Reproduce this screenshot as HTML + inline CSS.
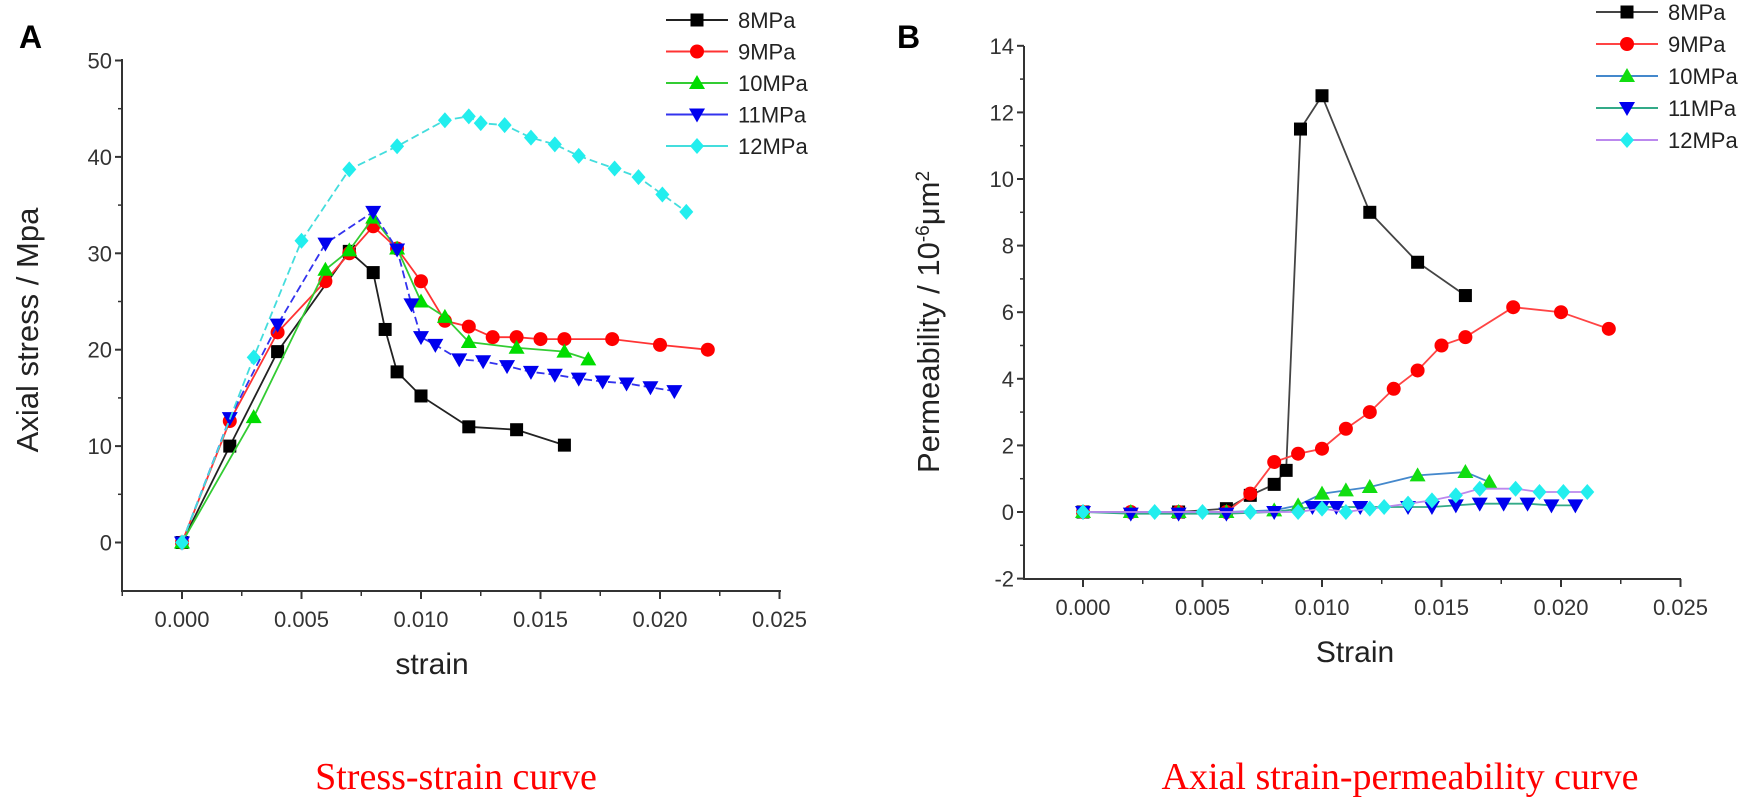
<!DOCTYPE html>
<html><head><meta charset="utf-8"><style>
html,body{margin:0;padding:0;background:#fff;}
svg{display:block;}
</style></head><body>
<svg id="root" width="1756" height="802" viewBox="0 0 1756 802" xmlns="http://www.w3.org/2000/svg" font-family="Liberation Sans, Arial, sans-serif">
<g id="A"></g>
<g id="B"></g>
<text x="456" y="789" font-family="Liberation Serif, serif" font-size="38" fill="#f00" text-anchor="middle">Stress-strain curve</text>
<text x="1400" y="789" font-family="Liberation Serif, serif" font-size="38" fill="#f00" text-anchor="middle">Axial strain-permeability curve</text>
</svg>
<script>
// ---- Chart A data ----
const aStrain8 = [0,0.002,0.004,0.007,0.008,0.0085,0.009,0.010,0.012,0.014,0.016];
const aStress8 = [0,10,19.8,30.2,28,22.1,17.7,15.2,12,11.7,10.1];
const aStrain9 = [0,0.002,0.004,0.006,0.007,0.008,0.009,0.010,0.011,0.012,0.013,0.014,0.015,0.016,0.018,0.020,0.022];
const aStress9 = [0,12.6,21.8,27.1,30,32.8,30.5,27.1,23,22.4,21.3,21.3,21.1,21.1,21.1,20.5,20.0];
const aStrain10 = [0,0.003,0.006,0.007,0.008,0.009,0.010,0.011,0.012,0.014,0.016,0.017];
const aStress10 = [0,13,28.3,30.3,33.7,30.5,25,23.4,20.8,20.2,19.8,19.0];
const aStrain11 = [0,0.002,0.004,0.006,0.008,0.009,0.0096,0.010,0.0106,0.0116,0.0126,0.0136,0.0146,0.0156,0.0166,0.0176,0.0186,0.0196,0.0206];
const aStress11 = [0,12.9,22.6,31,34.3,30.4,24.7,21.3,20.5,19,18.8,18.3,17.7,17.4,17,16.7,16.5,16.1,15.7];
const aStrain12 = [0,0.003,0.005,0.007,0.009,0.011,0.012,0.0125,0.0135,0.0146,0.0156,0.0166,0.0181,0.0191,0.0201,0.0211];
const aStress12 = [0,19.2,31.3,38.7,41.1,43.8,44.2,43.5,43.3,42,41.3,40.1,38.8,37.9,36.1,34.3];
const aYTicks = [0,10,20,30,40,50];
const aXTicks = ["0.000","0.005","0.010","0.015","0.020","0.025"];
// ---- Chart B data ----
const bStrain8 = [0,0.004,0.006,0.007,0.008,0.0085,0.0091,0.010,0.012,0.014,0.016];
const bPerm8 = [0,0,0.1,0.5,0.83,1.25,11.5,12.5,9.0,7.5,6.5];
const bStrain9 = [0,0.002,0.004,0.006,0.007,0.008,0.009,0.010,0.011,0.012,0.013,0.014,0.015,0.016,0.018,0.020,0.022];
const bPerm9 = [0,0,0,0,0.55,1.5,1.75,1.9,2.5,3.0,3.7,4.25,5.0,5.25,6.15,6.0,5.5];
const bStrain10 = [0,0.002,0.004,0.006,0.008,0.009,0.010,0.011,0.012,0.014,0.016,0.017];
const bPerm10 = [0,0,0,0,0.05,0.2,0.55,0.65,0.75,1.1,1.2,0.9];
const bStrain11 = [0,0.002,0.004,0.006,0.008,0.0096,0.010,0.0106,0.0116,0.0136,0.0146,0.0156,0.0166,0.0176,0.0186,0.0196,0.0206];
const bPerm11 = [0,-0.05,-0.05,-0.05,0,0.15,0.15,0.15,0.15,0.15,0.15,0.2,0.25,0.25,0.25,0.2,0.2];
const bStrain12 = [0,0.003,0.005,0.007,0.009,0.010,0.011,0.012,0.0126,0.0136,0.0146,0.0156,0.0166,0.0181,0.0191,0.0201,0.0211];
const bPerm12 = [0,0,0,0,0,0.1,0,0.1,0.15,0.25,0.35,0.5,0.7,0.7,0.6,0.6,0.6];
const bYTicks = [-2,0,2,4,6,8,10,12,14];
const bXTicks = ["0.000","0.005","0.010","0.015","0.020","0.025"];
const seriesNames = ["8MPa","9MPa","10MPa","11MPa","12MPa"];

const NS="http://www.w3.org/2000/svg";
function mk(parent,tag,attrs){const e=document.createElementNS(NS,tag);for(const k in attrs)e.setAttribute(k,attrs[k]);parent.appendChild(e);return e;}
function marker(g,type,x,y,fill){
  let e;
  if(type==="square"){e=mk(g,"rect",{x:x-6.5,y:y-6.5,width:13,height:13,fill:fill});}
  else if(type==="circle"){e=mk(g,"circle",{cx:x,cy:y,r:7,fill:fill});}
  else if(type==="up"){e=mk(g,"polygon",{points:`${x},${y-8} ${x-8},${y+6} ${x+8},${y+6}`,fill:fill});}
  else if(type==="down"){e=mk(g,"polygon",{points:`${x},${y+8} ${x-8},${y-6} ${x+8},${y-6}`,fill:fill});}
  else {e=mk(g,"polygon",{points:`${x},${y-8} ${x+7},${y} ${x},${y+8} ${x-7},${y}`,fill:fill});}
  
  
}
function chart(gid,cfg){
  const g=document.getElementById(gid);
  const X=v=>cfg.x0+v/0.005*cfg.xs, Y=v=>cfg.y0-v*cfg.ys;
  const ax=mk(g,"path",{d:`M${cfg.ax},${cfg.top} L${cfg.ax},${cfg.bot} L${cfg.right},${cfg.bot}`,stroke:"#333",fill:"none","stroke-width":2});
  
  
  cfg.yt.forEach((t,i)=>{
    const y=Y(t);
    mk(g,"line",{x1:cfg.ax-7,x2:cfg.ax,y1:y,y2:y,stroke:"#333","stroke-width":2});
    if(i<cfg.yt.length-1){const ym=Y((t+cfg.yt[i+1])/2);mk(g,"line",{x1:cfg.ax-4,x2:cfg.ax,y1:ym,y2:ym,stroke:"#333","stroke-width":1.5});}
    const tx=mk(g,"text",{x:cfg.ax-10,y:y+8,"font-size":22,fill:"#333","text-anchor":"end"});tx.textContent=t;
    
    
  });
  cfg.xt.forEach((t,i)=>{
    const x=X(parseFloat(t));
    mk(g,"line",{x1:x,x2:x,y1:cfg.bot,y2:cfg.bot+8,stroke:"#333","stroke-width":2});
    const xm=X(parseFloat(t)-0.0025);
    if(xm>cfg.ax)mk(g,"line",{x1:xm,x2:xm,y1:cfg.bot,y2:cfg.bot+5,stroke:"#333","stroke-width":1.5});
    const tx=mk(g,"text",{x:x,y:cfg.bot+36,"font-size":22,fill:"#333","text-anchor":"middle"});tx.textContent=t;
    
    
  });
  cfg.series.forEach((s,i)=>{
    const sg=mk(g,"g",{});
    
    
    const pts=s.xs.map((v,j)=>`${X(v)},${Y(s.ys[j])}`).join(" ");
    mk(sg,"polyline",{points:pts,fill:"none",stroke:s.line,"stroke-width":1.8,"stroke-dasharray":s.dash||""});
    s.xs.forEach((v,j)=>marker(sg,s.m,X(v),Y(s.ys[j]),s.fill));
    // legend
    const ly=cfg.legY+i*cfg.legDy;
    const lg=mk(g,"g",{});
    
    
    mk(lg,"line",{x1:cfg.legX,x2:cfg.legX+62,y1:ly,y2:ly,stroke:s.line,"stroke-width":2});
    marker(lg,s.m,cfg.legX+31,ly,s.fill);
    const lt=mk(lg,"text",{x:cfg.legX+72,y:ly+8,"font-size":22,fill:"#222"});lt.textContent=seriesNames[i];
  });
}
chart("A",{x0:182,xs:119.5,y0:542.5,ys:9.64,ax:122,top:59,bot:591,right:781,yt:aYTicks,xt:aXTicks,legX:666,legY:20,legDy:31.5,
 series:[
  {xs:aStrain8,ys:aStress8,m:"square",fill:"#000",line:"#222"},
  {xs:aStrain9,ys:aStress9,m:"circle",fill:"#f00",line:"#f33"},
  {xs:aStrain10,ys:aStress10,m:"up",fill:"#0d0",line:"#3c3"},
  {xs:aStrain11,ys:aStress11,m:"down",fill:"#00e",line:"#33e",dash:"8,4"},
  {xs:aStrain12,ys:aStress12,m:"diamond",fill:"#2ee",line:"#4dd",dash:"8,4"}]});
chart("B",{x0:1083,xs:119.5,y0:512,ys:33.3,ax:1024,top:46,bot:579,right:1681,yt:bYTicks,xt:bXTicks,legX:1596,legY:12,legDy:32,
 series:[
  {xs:bStrain8,ys:bPerm8,m:"square",fill:"#000",line:"#444"},
  {xs:bStrain9,ys:bPerm9,m:"circle",fill:"#f00",line:"#f44"},
  {xs:bStrain10,ys:bPerm10,m:"up",fill:"#1d1",line:"#48c"},
  {xs:bStrain11,ys:bPerm11,m:"down",fill:"#00e",line:"#3a8"},
  {xs:bStrain12,ys:bPerm12,m:"diamond",fill:"#2ee",line:"#b8e"}]});
// labels
const root=document.getElementById("root");
function lab(txt,attrs,name){const t=mk(root,"text",attrs);t.innerHTML=txt;return t;}
lab("A",{x:19,y:48,"font-size":32,"font-weight":"bold",fill:"#000"},"panel-label-a");
lab("B",{x:897,y:48,"font-size":32,"font-weight":"bold",fill:"#000"},"panel-label-b");
lab("strain",{x:432,y:674,"font-size":30,fill:"#222","text-anchor":"middle"},"x-axis-title-a");
lab("Strain",{x:1355,y:662,"font-size":30,fill:"#222","text-anchor":"middle"},"x-axis-title-b");
lab("Axial stress / Mpa",{x:0,y:0,"font-size":31,fill:"#222","text-anchor":"middle",transform:"translate(38,330) rotate(-90)"},"y-axis-title-a");
lab("Permeability / 10<tspan baseline-shift='super' font-size='19'>-6</tspan>μm<tspan baseline-shift='super' font-size='19'>2</tspan>",{x:0,y:0,"font-size":31,fill:"#222","text-anchor":"middle",transform:"translate(939,322) rotate(-90)"},"y-axis-title-b");
</script>
</body></html>
